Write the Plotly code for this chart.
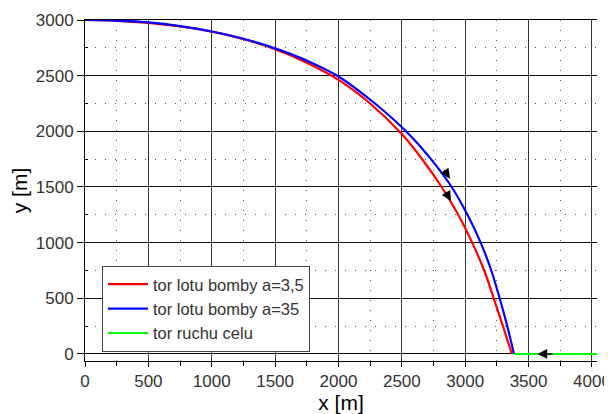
import plotly.graph_objects as go

# --- data ---
red_x = [0, 250, 500, 750, 1000, 1250, 1500, 1750, 2000, 2250, 2500, 2650, 2814, 2945, 3055, 3150, 3225, 3298, 3368]
red_y = [3000, 2993, 2974, 2942, 2895, 2828, 2737, 2615, 2462, 2250, 1975, 1765, 1500, 1250, 1000, 750, 500, 250, 0]

blue_x = [0, 250, 500, 750, 1000, 1250, 1500, 1750, 2000, 2288, 2533, 2730, 2893, 3018, 3122, 3206, 3272, 3332, 3385]
blue_y = [3000, 2995, 2978, 2945, 2897, 2832, 2745, 2635, 2493, 2250, 2000, 1750, 1500, 1250, 1000, 750, 500, 250, 0]

green_x = [3385, 4040]
green_y = [0, 0]

names = ["tor lotu bomby a=3,5", "tor lotu bomby a=35", "tor ruchu celu"]
colors = ["#ff0000", "#0000ff", "#00ff00"]

# direction arrows: (tail x, tail y, head x, head y)
arrow_tail_x = [2826, 2838, 3700]
arrow_tail_y = [1665, 1470, 0]
arrow_head_x = [2880, 2888, 3570]
arrow_head_y = [1575, 1375, 0]

fig = go.Figure()
for xs, ys, nm, c in zip([red_x, blue_x, green_x], [red_y, blue_y, green_y], names, colors):
    fig.add_trace(go.Scatter(x=xs, y=ys, mode="lines", name=nm,
                             line=dict(color=c, width=2.2, shape="spline", smoothing=1.0)))

for tx, ty, hx, hy in zip(arrow_tail_x, arrow_tail_y, arrow_head_x, arrow_head_y):
    fig.add_annotation(x=hx, y=hy, ax=tx, ay=ty, xref="x", yref="y", axref="x", ayref="y",
                       text="", showarrow=True, arrowhead=2, arrowsize=1.5, arrowwidth=1.3,
                       arrowcolor="black")

FONT = "Liberation Sans, Arial, sans-serif"
axis_font = dict(family=FONT, size=17, color="#333333")
# the page body adds an 8px offset, so the figure is drawn 8px smaller
fig.update_layout(
    width=604, height=406,
    margin=dict(l=77, r=15, t=12, b=53),
    paper_bgcolor="white", plot_bgcolor="white",
    font=dict(family=FONT, color="#222222"),
    legend=dict(x=0.033, y=0.279, xanchor="left", yanchor="top",
                bgcolor="white", bordercolor="#444444", borderwidth=1,
                font=dict(size=16.5, color="#333333"), tracegroupgap=0,
                itemwidth=40),
    showlegend=True,
)
fig.update_xaxes(
    range=[0, 4040], tick0=0, dtick=500, tickfont=axis_font, automargin=False,
    showline=True, linecolor="black", linewidth=1, mirror=True,
    showgrid=True, gridcolor="#333333", gridwidth=1,
    ticks="outside", ticklen=5, tickcolor="black",
    minor=dict(dtick=250, showgrid=True, gridcolor="#555555", griddash="1px,9px",
               ticks="outside", ticklen=4, tickcolor="black"),
    zeroline=False,
    title=dict(text="x [m]", font=dict(family=FONT, size=21, color="black"), standoff=0),
)
fig.update_yaxes(
    range=[-63, 3000], tick0=0, dtick=500, tickfont=axis_font, automargin=False,
    showline=True, linecolor="black", linewidth=1,
    showgrid=True, gridcolor="#111111", gridwidth=1,
    ticks="outside", ticklen=7, tickcolor="black",
    minor=dict(dtick=250, showgrid=True, gridcolor="#555555", griddash="1px,9px",
               ticks="inside", ticklen=3, tickcolor="black"),
    zeroline=True, zerolinecolor="black", zerolinewidth=1,
    title=dict(text="y [m]", font=dict(family=FONT, size=21, color="black"), standoff=8),
)

fig.write_html("out.html")
